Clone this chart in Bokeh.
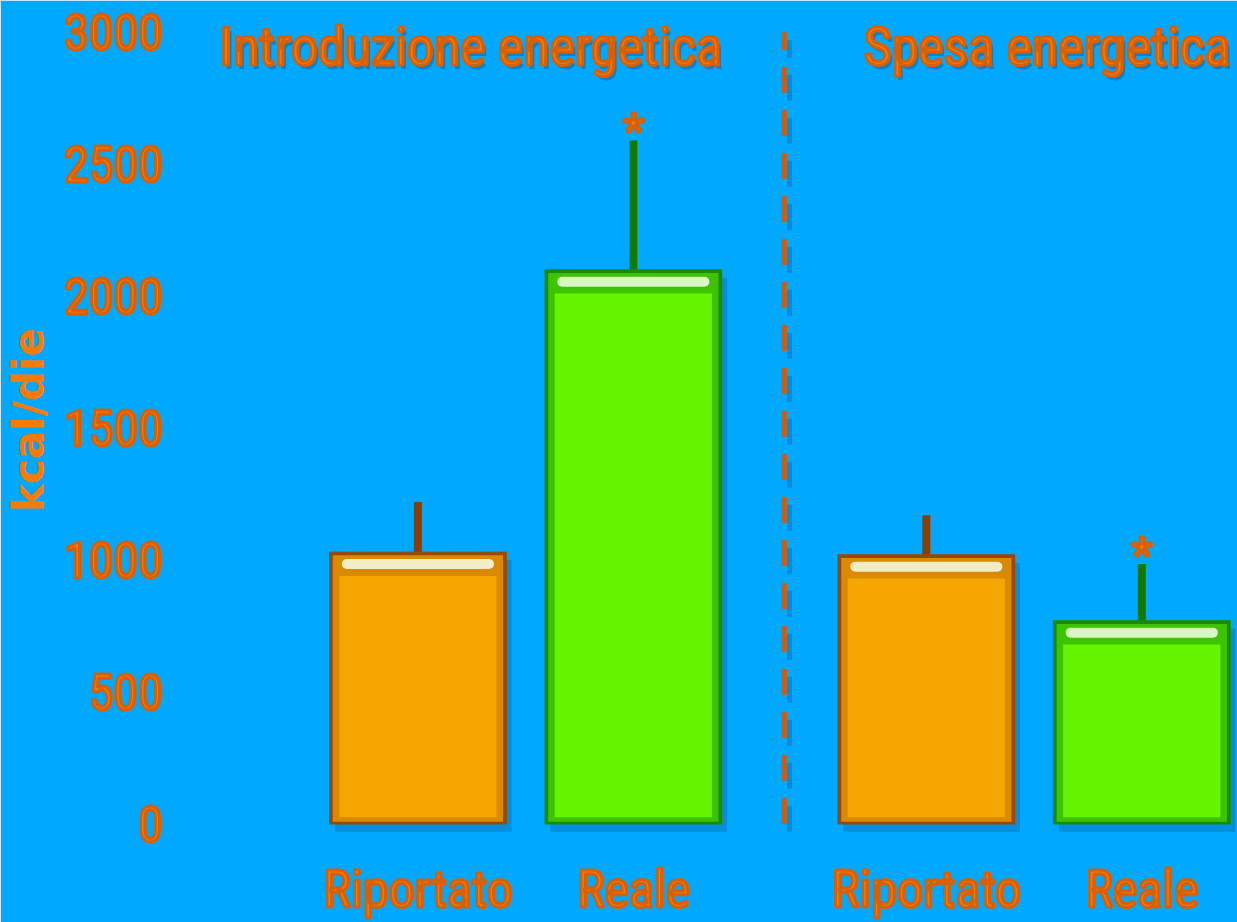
from bokeh.plotting import figure
from bokeh.models import Range1d, FixedTicker, ColumnDataSource
from bokeh.core.properties import value
from bokeh.embed import file_html
from bokeh.resources import INLINE

# ---- data -------------------------------------------------------------
groups = ["Introduzione energetica", "Spesa energetica"]
measures = ["Riportato", "Reale"]
kcal_mean = [1030, 2100, 1020, 770]      # intake reported / real, expenditure reported / real
kcal_err = [190, 490, 150, 215]
significant = [False, True, False, True]
y_ticks = [0, 500, 1000, 1500, 2000, 2500, 3000]

# ---- styling ----------------------------------------------------------
BG = "#00A8FF"
TXT = "#F67A06"
TXT_EDGE = "#D86000"
SHADOW = "#0A78C0"
NARROW = "Roboto Condensed"
BAR_W = 0.82
GROUP_GAP = 0.36

palette = {
    "Riportato": dict(edge="#9A4800", mid="#D98A00", main="#F5A600", stem="#8A3E00"),
    "Reale": dict(edge="#1C8A00", mid="#3CC400", main="#66F400", stem="#0F7A00"),
}

# bar positions: two bars per group, extra gap between groups
xs, labels = [], []
for g, _ in enumerate(groups):
    for i, m in enumerate(measures):
        xs.append(g * (len(measures) + GROUP_GAP) + i)
        labels.append(m)

src = ColumnDataSource(dict(
    x=xs,
    top=kcal_mean,
    upper=[m + e for m, e in zip(kcal_mean, kcal_err)],
    edge=[palette[n]["edge"] for n in labels],
    mid=[palette[n]["mid"] for n in labels],
    main=[palette[n]["main"] for n in labels],
    stem=[palette[n]["stem"] for n in labels],
    x_sh=[x + 0.025 for x in xs],
    top_sh=[m - 30 for m in kcal_mean],
    inner_top=[m - 12 for m in kcal_mean],
    body_top=[m - 90 for m in kcal_mean],
    gx0=[x - BAR_W / 2 + 0.08 for x in xs],
    gx1=[x + BAR_W / 2 - 0.08 for x in xs],
    gloss=[m - 45 for m in kcal_mean],
))

unit_px = 216
left_px = 175
x_start = xs[0] - (415 - left_px) / unit_px
x_end = xs[-1] + (1237 - 1141) / unit_px

# frame runs a little above the top tick so the panel titles are not clipped
p = figure(width=1237, height=922, output_backend="svg", toolbar_location=None,
           x_range=Range1d(x_start, x_end), y_range=Range1d(-40, 3102),
           min_border_left=left_px, min_border_right=0,
           min_border_top=5, min_border_bottom=82)
p.background_fill_color = BG
p.border_fill_color = BG
p.outline_line_color = BG
p.outline_line_width = 3
p.grid.visible = False

# drop shadows
p.vbar(x="x_sh", top="top_sh", bottom=-30, width=BAR_W, source=src,
       fill_color=SHADOW, fill_alpha=0.55, line_color=None)

# error stems (upper half only)
p.segment(x0="x", x1="x", y0="top", y1="upper", source=src,
          line_color="stem", line_width=8)

# bars, layered for a bevelled look
p.vbar(x="x", top="top", bottom=0, width=BAR_W, source=src,
       fill_color="edge", line_color="edge", line_width=1)
p.vbar(x="x", top="inner_top", bottom=8, width=BAR_W - 0.03, source=src,
       fill_color="mid", line_color=None)
p.vbar(x="x", top="body_top", bottom=25, width=BAR_W - 0.09, source=src,
       fill_color="main", line_color=None)
p.segment(x0="gx0", x1="gx1", y0="gloss", y1="gloss", source=src,
          line_color="#F4FFE8", line_alpha=0.85, line_width=10, line_cap="round")

# significance markers
star_x = [x for x, s in zip(xs, significant) if s]
star_y = [m + e for m, e, s in zip(kcal_mean, kcal_err, significant) if s]
p.text(x=star_x, y=star_y, text=["*"] * len(star_x),
       text_align="center", text_baseline="middle", y_offset=-9,
       text_font=value("Liberation Sans"), text_font_size="56px",
       text_color=TXT, text_outline_color=TXT_EDGE)

# separator between the two panels
sep_x = (xs[1] + xs[2]) / 2 + 0.02
p.segment(x0=[sep_x + 0.025], x1=[sep_x + 0.025], y0=[0 - 30], y1=[y_ticks[-1] - 30],
          line_color=SHADOW, line_alpha=0.6, line_width=5, line_dash="26 17")
p.segment(x0=[sep_x], x1=[sep_x], y0=[0], y1=[y_ticks[-1]],
          line_color="#D85A00", line_width=5, line_dash="26 17")

# panel titles, right-aligned on the right edge of each group
title_x = [xs[1] + BAR_W / 2, xs[3] + BAR_W / 2]
title_y = [2945, 2945]
p.text(x=title_x, y=title_y, text=groups, x_offset=3, y_offset=4,
       text_align="right", text_baseline="middle",
       text_font=value(NARROW), text_font_size="54px", text_color=SHADOW, text_alpha=0.8)
p.text(x=title_x, y=title_y, text=groups,
       text_align="right", text_baseline="middle",
       text_font=value(NARROW), text_font_size="54px",
       text_color=TXT, text_outline_color=TXT_EDGE)

# axes
p.yaxis.ticker = FixedTicker(ticks=y_ticks)
p.yaxis.axis_line_color = None
p.yaxis.major_tick_line_color = None
p.yaxis.minor_tick_line_color = None
p.yaxis.major_label_standoff = 10
p.yaxis.major_label_text_font = NARROW
p.yaxis.major_label_text_font_size = "50px"
p.yaxis.major_label_text_color = TXT
p.yaxis.major_label_text_outline_color = TXT_EDGE
p.yaxis.axis_label = "kcal/die"
p.yaxis.axis_label_text_font = "DejaVu Sans"
p.yaxis.axis_label_text_font_size = "42px"
p.yaxis.axis_label_text_font_style = "bold"
p.yaxis.axis_label_text_color = TXT
p.yaxis.axis_label_standoff = 8

p.xaxis.ticker = FixedTicker(ticks=xs)
p.xaxis.major_label_overrides = {x: l for x, l in zip(xs, labels)}
p.xaxis.axis_line_color = None
p.xaxis.major_tick_line_color = None
p.xaxis.minor_tick_line_color = None
p.xaxis.major_label_standoff = 18
p.xaxis.major_label_text_font = NARROW
p.xaxis.major_label_text_font_size = "52px"
p.xaxis.major_label_text_color = TXT
p.xaxis.major_label_text_outline_color = TXT_EDGE

open("out.html", "w").write(file_html(p, INLINE))
